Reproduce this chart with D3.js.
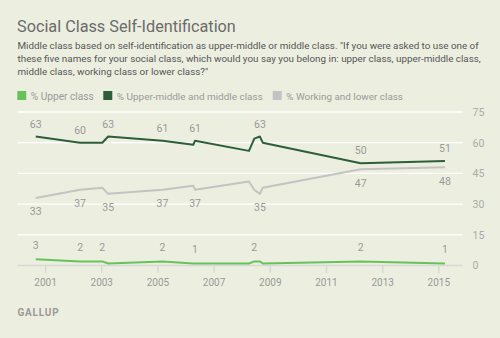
<!DOCTYPE html>
<html>
<head>
<meta charset="utf-8">
<script src="https://cdn.jsdelivr.net/npm/d3@7"></script>
<style>
  body { margin: 0; background: #ecefe0; }
  svg { display: block; font-family: Roboto, "Liberation Sans", Arial, sans-serif; }
</style>
</head>
<body>
<div class="graph"></div>
<script>
// survey dates and values
var dates = ['2000-09-01', '2002-04-01', '2003-01-15', '2003-04-01', '2005-03-07', '2006-04-12',
             '2006-05-05', '2008-04-05', '2008-06-13', '2008-08-25', '2008-10-01', '2012-03-28', '2015-03-28'];
var upperClass   = [3, 2, 2, 1, 2, 1, 1, 1, 2, 2, 1, 2, 1];
var middleClass  = [63, 60, 60, 63, 61, 59, 61, 56, 62, 63, 60, 50, 51];
var workingClass = [33, 37, 38, 35, 37, 39, 37, 41, 37, 35, 38, 47, 48];

// which points carry a value label
var upperLabels   = [0, 1, 2, 4, 6, 8, 11, 12];
var middleLabels  = [0, 1, 3, 4, 6, 9, 11, 12];
var workingLabels = [0, 1, 3, 4, 6, 9, 11, 12];

var seriesNames = ['% Upper class', '% Upper-middle and middle class', '% Working and lower class'];
var yTicks = [0, 15, 30, 45, 60, 75];
var xTickYears = [2001, 2003, 2005, 2007, 2009, 2011, 2013, 2015];

var title = 'Social Class Self-Identification';
var subtitle = [
    'Middle class based on self-identification as upper-middle or middle class. "If you were asked to use one of',
    'these five names for your social class, which would you say you belong in: upper class, upper-middle class,',
    'middle class, working class or lower class?"'
];

var basewidth = 500;
var baseheight = 338;
var parse = d3.timeParse('%Y-%m-%d');

var svg = d3.select('.graph')
    .append('svg')
    .attr('width', basewidth)
    .attr('height', baseheight)

svg.append('rect')
    .attr('width', basewidth)
    .attr('height', baseheight)
    .attr('fill', '#ecefe0')

// shrink/grow a text's font so it spans the width seen in the reference
function fitWidth(sel, size, target) {
    sel.style('font-size', size + 'px')
    var w = sel.node().getComputedTextLength()
    var s = size * target / w
    sel.style('font-size', s + 'px')
    return s
}

// scales
var x = d3.scaleTime()
    .domain([parse('2000-01-08'), parse('2015-11-14')])
    .range([17.5, 462.7])
var y = d3.scaleLinear()
    .domain([0, 75])
    .range([265.5, 112])

// header
var t = svg.append('text')
    .attr('x', 17)
    .attr('y', 31.5)
    .attr('fill', '#6b6b6b')
    .text(title)
fitWidth(t, 18, 219)

var subs = svg.selectAll('.sub')
    .data(subtitle)
    .enter().append('text')
    .attr('class', 'sub')
    .attr('x', 17.5)
    .attr('y', function(d, i) { return 49 + i * 12.8 })
    .attr('fill', '#555')
    .text(function(d) { return d })
var subSize = fitWidth(d3.select(subs.nodes()[0]), 10.5, 462)
subs.style('font-size', subSize + 'px')

// legend
var colors = ['#66c359', '#2c5e38', '#c3c3c3'];
var legendX = [17.3, 103.3, 272.7];
var legendW = [63, 146, 117];
var legend = svg.selectAll('.legend')
    .data(seriesNames)
    .enter().append('g')
    .attr('class', 'legend')
    .attr('transform', function(d, i) { return 'translate(' + legendX[i] + ',91)' })
legend.append('rect')
    .attr('width', 9)
    .attr('height', 9)
    .attr('fill', function(d, i) { return colors[i] })
legend.append('text')
    .attr('x', 13.5)
    .attr('y', 8.5)
    .attr('fill', '#999')
    .text(function(d) { return d })
    .each(function(d, i) { fitWidth(d3.select(this), 11, legendW[i]) })

// gridlines
svg.selectAll('.grid')
    .data(yTicks.slice(1))
    .enter().append('line')
    .attr('class', 'grid')
    .attr('x1', 17.5)
    .attr('x2', 462.7)
    .attr('y1', function(d) { return y(d) })
    .attr('y2', function(d) { return y(d) })
    .attr('stroke', '#fff')
    .attr('stroke-width', 1.3)

// y axis labels on the right
var yAxis = d3.axisRight(y)
    .tickValues(yTicks)
    .tickSize(0)
    .tickPadding(0)
svg.append('g')
    .attr('transform', 'translate(472.5,0)')
    .call(yAxis)
    .call(function(g) { g.select('.domain').remove() })
    .selectAll('text')
    .attr('fill', '#aaa')
    .style('font-size', '10.5px')
    .style('font-family', 'Roboto, "Liberation Sans", Arial, sans-serif')

// x axis
var xAxis = d3.axisBottom(x)
    .tickValues(xTickYears.map(function(yr) { return new Date(yr, 0, 1) }))
    .tickFormat(d3.timeFormat('%Y'))
    .tickSize(7.5)
    .tickPadding(6)
var gx = svg.append('g')
    .attr('transform', 'translate(0,' + y(0) + ')')
    .call(xAxis)
gx.select('.domain')
    .attr('d', 'M17.5,0H462.7')
    .attr('stroke', '#d8d8d8')
    .attr('stroke-width', 1.5)
gx.selectAll('.tick line')
    .attr('stroke', '#d8d8d8')
    .attr('stroke-width', 1.5)
gx.selectAll('.tick text')
    .attr('fill', '#999')
    .style('font-size', '10px')
    .style('font-family', 'Roboto, "Liberation Sans", Arial, sans-serif')

// lines
var allSeries = [upperClass, middleClass, workingClass];
var allLabels = [upperLabels, middleLabels, workingLabels];
var labelOffset = [-10, -9, 17.5];

var line = d3.line()
    .x(function(d, i) { return x(parse(dates[i])) })
    .y(function(d) { return y(d) })

allSeries.forEach(function(values, s) {
    svg.append('path')
        .attr('d', line(values))
        .attr('fill', 'none')
        .attr('stroke', colors[s])
        .attr('stroke-width', 2)
        .attr('stroke-linejoin', 'round')

    svg.selectAll('.lbl' + s)
        .data(allLabels[s])
        .enter().append('text')
        .attr('class', 'lbl' + s)
        .attr('x', function(i) { return x(parse(dates[i])) })
        .attr('y', function(i) { return y(values[i]) + labelOffset[s] })
        .attr('text-anchor', 'middle')
        .attr('fill', '#999')
        .style('font-size', '10.5px')
        .text(function(i) { return values[i] })
})

// footer
var g = svg.append('text')
    .attr('x', 17.5)
    .attr('y', 316)
    .attr('fill', '#999')
    .style('font-weight', 'bold')
    .style('letter-spacing', '0.8px')
    .text('GALLUP')
fitWidth(g, 10, 42)
</script>
</body>
</html>
